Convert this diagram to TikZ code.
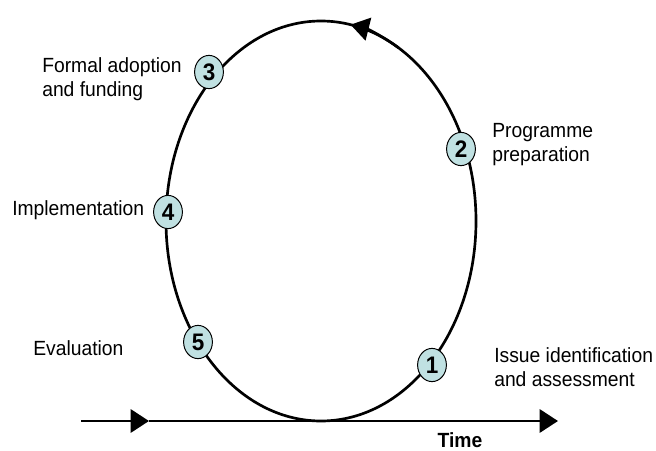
\documentclass[tikz,border=0pt]{standalone}
\usepackage{fontspec}
\setmainfont[FakeStretch=0.94]{Liberation Sans}
\usepackage{xcolor}
\usetikzlibrary{arrows.meta,shapes.geometric,positioning,calc}
\definecolor{stagefill}{RGB}{192,225,226}

\begin{document}
\begin{tikzpicture}[font=\fontsize{14.6pt}{17pt}\selectfont,
    stage/.style={ellipse, draw=black, line width=0.7pt, fill=stagefill,
      minimum width=0.72cm, minimum height=0.83cm, inner sep=0pt,
      font=\fontsize{17pt}{17pt}\selectfont\bfseries},
    lbl/.style={anchor=west, align=left, inner sep=0pt},
    tip/.style={-{Triangle[length=0.46cm, width=0.58cm]}}]
    \useasboundingbox (0,0) rectangle (16.4,11.25);
    % ---- the policy cycle
    \coordinate (c) at (8.025, 5.725);
    \draw[line width=1.9pt] (c) ellipse [x radius=3.875, y radius=5.0];
    \draw[line width=1.9pt, tip] (c) ++(60:3.875 and 5.0)
      arc [start angle=60, end angle=79, x radius=3.875, y radius=5.0];
    % ---- numbered stages
    \node[stage] (n1) at (10.8, 2.125)  {1};
    \node[stage] (n2) at (11.525, 7.525) {2};
    \node[stage] (n3) at (5.225, 9.45)  {3};
    \node[stage] (n4) at (4.2, 5.95)    {4};
    \node[stage] (n5) at (4.95, 2.7)    {5};
    % ---- stage names
    \node[lbl] (t3) at (1.05, 9.275)  {Formal adoption\\and funding};
    \node[lbl] (t2) at (12.3, 7.625)  {Programme\\preparation};
    \node[lbl] (t4) at (0.3, 6.0)     {Implementation};
    \node[lbl] (t5) at (0.825, 2.55)  {Evaluation};
    \node[lbl] (t1) at (12.35, 2.075) {Issue identification\\and assessment};
    % ---- time axis
    \coordinate (t0) at (2.025, 0.725);
    \coordinate (tm) at (3.725, 0.725);
    \coordinate (te) at (13.95, 0.725);
    \draw[line width=2.1pt, tip] (t0) -- (tm);
    \draw[line width=2.1pt, tip] (tm) -- (te);
    \node[font=\fontsize{14.6pt}{17pt}\selectfont\bfseries] (time) at (11.5, 0.25) {Time};
  \end{tikzpicture}
\end{document}
